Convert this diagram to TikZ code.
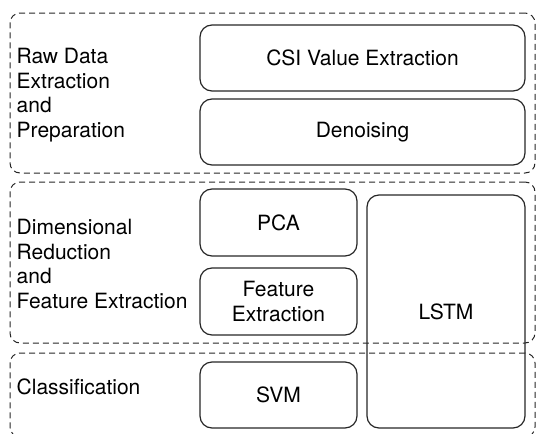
\documentclass[tikz,border=0pt]{standalone}
\usepackage{fontspec}
\setmainfont{TeX Gyre Heros}
\begin{document}
\begin{tikzpicture}[x=1pt,y=-1pt,
 group/.style={draw=black!85, dash pattern=on 6pt off 4pt, line width=1pt, rounded corners=10pt, inner sep=0pt, shape=rectangle},
 stage/.style={draw=black!85, line width=1.2pt, rounded corners=12pt, align=center, font=\fontsize{21}{24.5}\selectfont, inner sep=0pt},
 lbl/.style={anchor=west, align=left, font=\fontsize{21}{24.5}\selectfont, inner sep=0pt}]
\useasboundingbox (0,0) rectangle (536,434);
\clip (0,0) rectangle (536,434);
% groups
\node[group, minimum width=525pt, minimum height=160pt] (g1) at (272.5,93) {};
\node[group, minimum width=525pt, minimum height=161pt] (g2) at (272.5,262.5) {};
\node[group, minimum width=525pt, minimum height=84pt] (g3) at (272.5,395) {};
% labels
\node[lbl] (l1) at (16.5,95) {Raw Data\\Extraction\\and\\Preparation};
\node[lbl] (l2) at (16.5,264) {Dimensional\\Reduction\\and\\Feature Extraction};
\node[lbl] (l3) at (16.5,387) {Classification};
% stages
\node[stage, minimum width=325pt, minimum height=66pt] (csi) at (362.5,58) {CSI Value Extraction};
\node[stage, minimum width=325pt, minimum height=66pt] (den) at (362.5,132) {Denoising};
\node[stage, minimum width=157pt, minimum height=67pt] (pca) at (278.5,222.5) {PCA};
\node[stage, minimum width=157pt, minimum height=67pt] (fe) at (278.5,301.5) {Feature\\Extraction};
\node[stage, minimum width=157pt, minimum height=66pt] (svm) at (278.5,395) {SVM};
\node[stage, minimum width=158pt, minimum height=233pt] (lstm) at (446,311.5) {LSTM};
\end{tikzpicture}
\end{document}
